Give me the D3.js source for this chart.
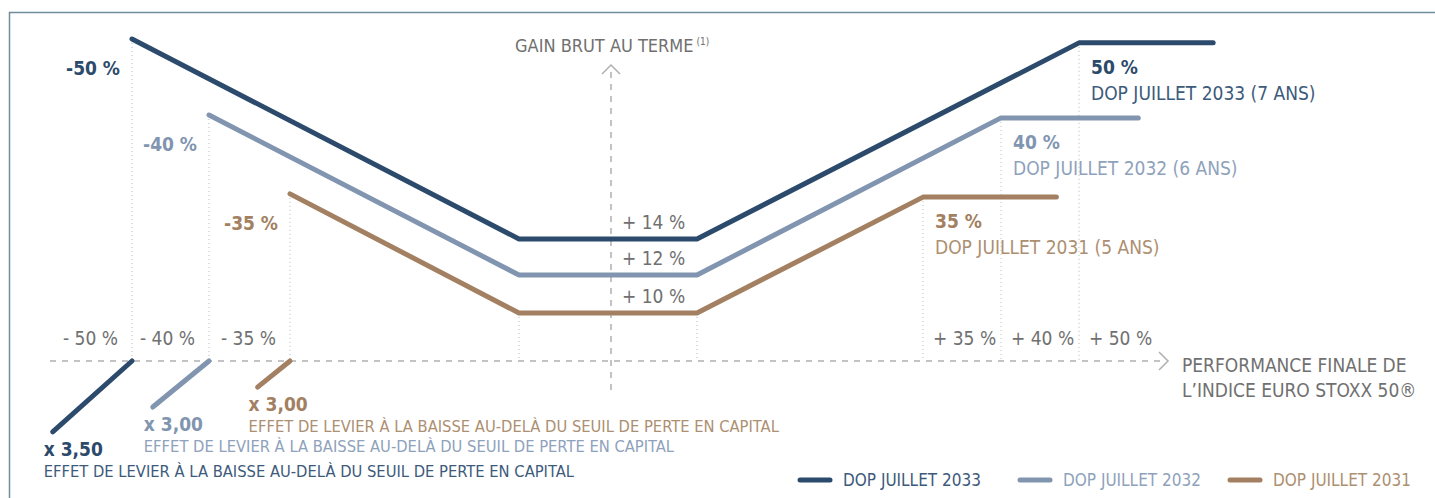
<!DOCTYPE html>
<html>
<head>
<meta charset="utf-8">
<script src="https://cdn.jsdelivr.net/npm/d3@7"></script>
<style>
  body { margin: 0; background: #fff; }
  svg text { font-family: "Liberation Sans Narrow", "DejaVu Sans Condensed", Roboto, sans-serif; }
</style>
</head>
<body>
<div id="chart"></div>
<script>
// Dimensions
const width = 1435;
const height = 498;

// Series
const seriesNames = ["DOP JUILLET 2033", "DOP JUILLET 2032", "DOP JUILLET 2031"];
const durations = ["7 ANS", "6 ANS", "5 ANS"];
const barrierLoss = [-50, -40, -35];
const capGain = [50, 40, 35];
const floorGain = [14, 12, 10];
const leverage = ["3,50", "3,00", "3,00"];

// Stylised payoff paths (x = performance of the index, y = drawing level)
const payoffX = [
    [-50, -15, 15, 50, 67.2],
    [-40, -15, 15, 40, 57.6],
    [-35, -15, 15, 35, 47.1]
];
const payoffY = [
    [100, 37.9, 37.9, 98.8, 98.8],
    [76.4, 26.7, 26.7, 75.5, 75.5],
    [51.9, 14.9, 14.9, 50.9, 50.9]
];
// Leverage segments below the axis
const leverX = [[-50, -60.3], [-40, -47.3], [-35, -37.0]];
const leverY = [[0, -22], [0, -14.3], [0, -8.1]];

const perfTicks = [-50, -40, -35, 35, 40, 50];
const flatTicks = [-15, 15];

// Colours
const lineColors = ["#2c4a6b", "#8195b0", "#a28061"];
const textColors = ["#3d5a7b", "#8fa2bb", "#ad8f71"];
const grey = "#707070";

// Scales (piecewise, the diagram is not to scale)
const x = d3.scaleLinear()
    .domain([-50, -40, -35, -15, 0, 15, 35, 40, 50])
    .range([132, 209, 290, 519, 611, 697, 923, 1001, 1079]);
const y = d3.scaleLinear()
    .domain([0, 100])
    .range([361, 39]);

const svg = d3.select("#chart")
    .append("svg")
    .attr("width", width)
    .attr("height", height);

// Frame
svg.append("path")
    .attr("d", `M9.5,${height} V12.5 H${width}`)
    .attr("fill", "none")
    .attr("stroke", "#6f8d9b")
    .attr("stroke-width", 1.5);

// Dotted guides
const guides = [];
seriesNames.forEach((s, i) => {
    guides.push({ x: payoffX[i][0], y: payoffY[i][0] });
    guides.push({ x: payoffX[i][3], y: payoffY[i][3] });
});
flatTicks.forEach(v => guides.push({ x: v, y: d3.min(payoffY, d => d[1]) }));

svg.append("g")
    .selectAll("line")
    .data(guides)
    .join("line")
    .attr("x1", d => x(d.x))
    .attr("x2", d => x(d.x))
    .attr("y1", d => y(d.y))
    .attr("y2", y(0))
    .attr("stroke", "#b8b8b8")
    .attr("stroke-width", 1)
    .attr("stroke-dasharray", "1,3");

// Axes (dashed with chevrons)
const axisColor = "#b0b0b0";
svg.append("line")
    .attr("x1", 50).attr("x2", 1162)
    .attr("y1", y(0)).attr("y2", y(0))
    .attr("stroke", axisColor)
    .attr("stroke-width", 1.5)
    .attr("stroke-dasharray", "6,6");
svg.append("path")
    .attr("d", `M1159,${y(0) - 9} L1168,${y(0)} L1159,${y(0) + 9}`)
    .attr("fill", "none").attr("stroke", axisColor).attr("stroke-width", 1.5);

svg.append("line")
    .attr("x1", x(0)).attr("x2", x(0))
    .attr("y1", 72).attr("y2", 392)
    .attr("stroke", axisColor)
    .attr("stroke-width", 1.5)
    .attr("stroke-dasharray", "6,6");
svg.append("path")
    .attr("d", `M${x(0) - 9},74 L${x(0)},65 L${x(0) + 9},74`)
    .attr("fill", "none").attr("stroke", axisColor).attr("stroke-width", 1.5);

// Axis titles
const yTitle = svg.append("text")
    .attr("x", 515).attr("y", 52)
    .attr("fill", grey)
    .attr("font-size", 18)
    .text("GAIN BRUT AU TERME");
yTitle.append("tspan")
    .attr("dx", 3).attr("dy", -7)
    .attr("font-size", 10)
    .text("(1)");

svg.append("text")
    .attr("x", 1182).attr("y", 372)
    .attr("fill", grey).attr("font-size", 19)
    .text("PERFORMANCE FINALE DE");
svg.append("text")
    .attr("x", 1182).attr("y", 397)
    .attr("fill", grey).attr("font-size", 19)
    .text("L\u2019INDICE EURO STOXX 50\u00AE");

// Tick labels
svg.append("g")
    .selectAll("text")
    .data(perfTicks)
    .join("text")
    .attr("x", d => d < 0 ? x(d) - 14 : x(d) + 10)
    .attr("y", 345)
    .attr("text-anchor", d => d < 0 ? "end" : "start")
    .attr("fill", grey)
    .attr("font-size", 19)
    .text(d => (d < 0 ? "- " : "+ ") + Math.abs(d) + " %");

// Payoff lines
const line = d3.line().x(d => x(d[0])).y(d => y(d[1]));

seriesNames.forEach((s, i) => {
    const pts = payoffX[i].map((v, j) => [v, payoffY[i][j]]);
    svg.append("path")
        .attr("d", line(pts))
        .attr("fill", "none")
        .attr("stroke", lineColors[i])
        .attr("stroke-width", 5)
        .attr("stroke-linecap", "round")
        .attr("stroke-linejoin", "round");

    const lev = leverX[i].map((v, j) => [v, leverY[i][j]]);
    svg.append("path")
        .attr("d", line(lev))
        .attr("fill", "none")
        .attr("stroke", lineColors[i])
        .attr("stroke-width", 5)
        .attr("stroke-linecap", "round");

    // loss threshold label
    svg.append("text")
        .attr("x", x(payoffX[i][0]) - 12)
        .attr("y", y(payoffY[i][0]) + 36)
        .attr("text-anchor", "end")
        .attr("fill", lineColors[i])
        .attr("font-weight", "bold")
        .attr("font-size", 19)
        .text(barrierLoss[i] + " %");

    // cap label
    svg.append("text")
        .attr("x", x(payoffX[i][3]) + 12)
        .attr("y", y(payoffY[i][3]) + 31)
        .attr("fill", lineColors[i])
        .attr("font-weight", "bold")
        .attr("font-size", 19)
        .text(capGain[i] + " %");
    svg.append("text")
        .attr("x", x(payoffX[i][3]) + 12)
        .attr("y", y(payoffY[i][3]) + 57)
        .attr("fill", textColors[i])
        .attr("font-size", 19)
        .text(`${s} (${durations[i]})`);

    // floor label
    svg.append("text")
        .attr("x", x(0) + 11)
        .attr("y", y(payoffY[i][1]) - 10)
        .attr("fill", grey)
        .attr("font-size", 19)
        .text("+ " + floorGain[i] + " %");

    // leverage labels
    const ex = x(leverX[i][1]) - 9;
    const ey = y(leverY[i][1]) + 24;
    svg.append("text")
        .attr("x", ex).attr("y", ey)
        .attr("fill", lineColors[i])
        .attr("font-weight", "bold")
        .attr("font-size", 19)
        .text("x " + leverage[i]);
    svg.append("text")
        .attr("x", ex).attr("y", ey + 21)
        .attr("fill", textColors[i])
        .attr("font-size", 16.4)
        .text("EFFET DE LEVIER \u00C0 LA BAISSE AU-DEL\u00C0 DU SEUIL DE PERTE EN CAPITAL");
});

// Legend
const legendX = [800, 1020, 1230];
const legend = svg.append("g")
    .selectAll("g")
    .data(seriesNames)
    .join("g")
    .attr("transform", (d, i) => `translate(${legendX[i]},480)`);
legend.append("line")
    .attr("x1", 0).attr("x2", 30)
    .attr("stroke", (d, i) => lineColors[i])
    .attr("stroke-width", 5)
    .attr("stroke-linecap", "round");
legend.append("text")
    .attr("x", 43).attr("y", 6)
    .attr("fill", (d, i) => textColors[i])
    .attr("font-size", 17)
    .text(d => d);
</script>
</body>
</html>
